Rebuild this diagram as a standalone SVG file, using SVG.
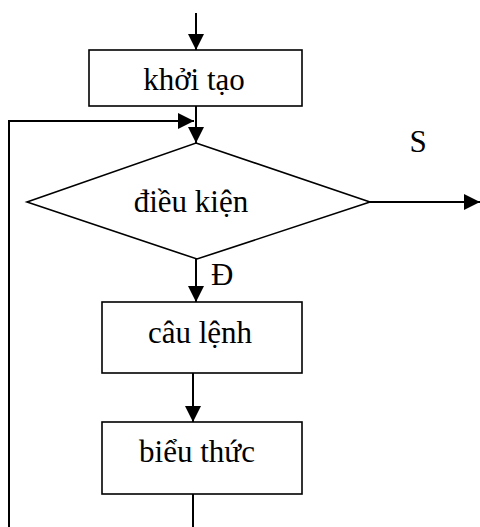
<svg xmlns="http://www.w3.org/2000/svg" width="480" height="527" viewBox="0 0 480 527">
<style>
.box{fill:#fff;stroke:#000;stroke-width:1.6}
.ln{fill:none;stroke:#000;stroke-width:2}
.t{font-family:"Liberation Serif","Times New Roman",serif;font-size:31px;fill:#000}
.c{text-anchor:middle}
</style>
<defs>
<marker id="ah" viewBox="0 0 16 16" refX="16" refY="8" markerWidth="16" markerHeight="16" markerUnits="userSpaceOnUse" orient="auto">
<path d="M0,0 L16,8 L0,16 Z" fill="#000"/>
</marker>
</defs>
<g id="connectors">
<line class="ln" x1="196" y1="13" x2="196" y2="50" marker-end="url(#ah)"/>
<line class="ln" x1="196" y1="106" x2="196" y2="143" marker-end="url(#ah)"/>
<polyline class="ln" points="9,527 9,121 194,121" marker-end="url(#ah)"/>
<line class="ln" x1="370" y1="202" x2="480" y2="202" marker-end="url(#ah)"/>
<line class="ln" x1="196" y1="259" x2="196" y2="302" marker-end="url(#ah)"/>
<line class="ln" x1="193" y1="373" x2="193" y2="422" marker-end="url(#ah)"/>
<line class="ln" x1="193" y1="494" x2="193" y2="527"/>
<text class="t" x="418" y="152" text-anchor="middle">S</text>
<text class="t" x="211" y="285">Đ</text>
</g>
<g id="khoitao">
<rect class="box" x="89" y="50" width="213" height="56"/>
<text class="t c" x="194" y="90">khởi tạo</text>
</g>
<g id="dieukien">
<polygon class="box" points="196,143 370,202 197,259 27,202"/>
<text class="t c" x="191" y="212">điều kiện</text>
</g>
<g id="caulenh">
<rect class="box" x="102" y="302" width="200" height="71"/>
<text class="t c" x="200" y="343">câu lệnh</text>
</g>
<g id="bieuthuc">
<rect class="box" x="102" y="422" width="200" height="72"/>
<text class="t c" x="197" y="462">biểu thức</text>
</g>
</svg>
